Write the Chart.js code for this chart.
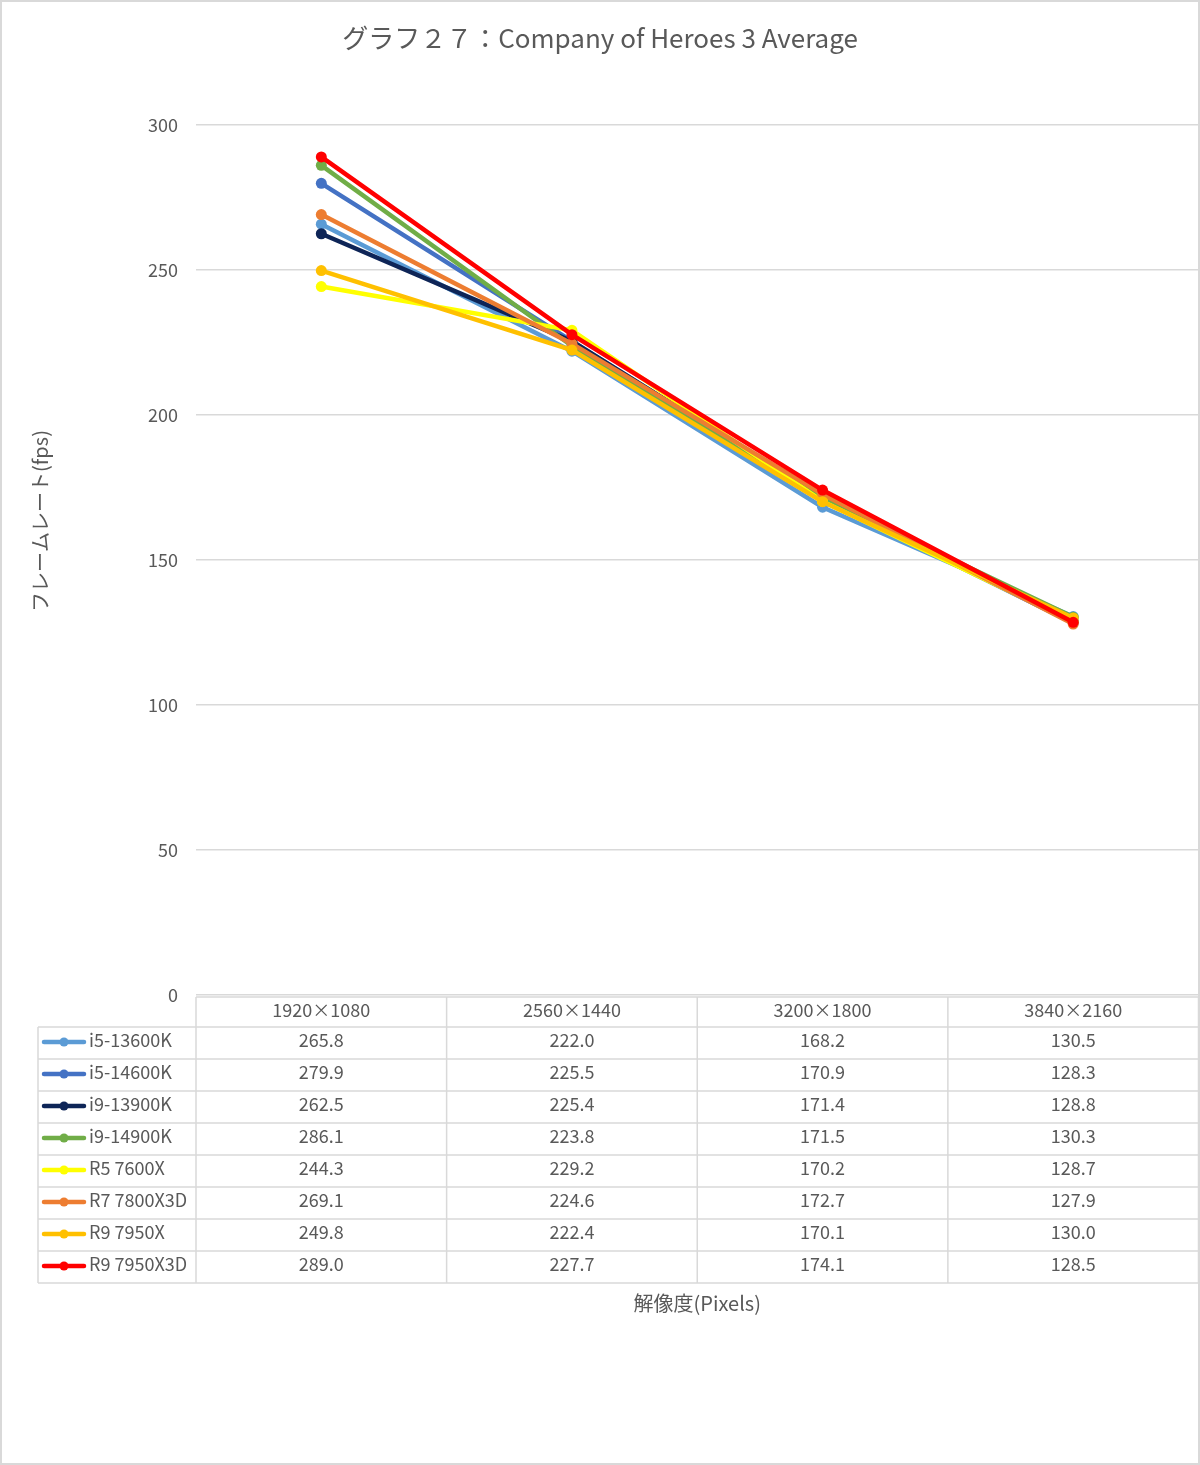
<!DOCTYPE html>
<html><head><meta charset="utf-8">
<script src="https://cdn.jsdelivr.net/npm/chart.js@4/dist/chart.umd.min.js"></script>
<style>html,body{margin:0;padding:0;background:#fff;overflow:hidden}#wrap{width:1200px;height:1465px;position:relative;overflow:hidden}canvas{display:block}</style>
</head><body><div id="wrap"><canvas id="c" width="1204" height="1465"></canvas></div>
<script>
const chartTitle = 'グラフ２７：Company of Heroes 3 Average';
const xTitle = '解像度(Pixels)';
const yTitle = 'フレームレート(fps)';
const categories = ['1920×1080', '2560×1440', '3200×1800', '3840×2160'];
const seriesNames = ['i5-13600K', 'i5-14600K', 'i9-13900K', 'i9-14900K', 'R5 7600X', 'R7 7800X3D', 'R9 7950X', 'R9 7950X3D'];
const i5_13600K = [265.8, 222.0, 168.2, 130.5];
const i5_14600K = [279.9, 225.5, 170.9, 128.3];
const i9_13900K = [262.5, 225.4, 171.4, 128.8];
const i9_14900K = [286.1, 223.8, 171.5, 130.3];
const r5_7600X = [244.3, 229.2, 170.2, 128.7];
const r7_7800X3D = [269.1, 224.6, 172.7, 127.9];
const r9_7950X = [249.8, 222.4, 170.1, 130.0];
const r9_7950X3D = [289.0, 227.7, 174.1, 128.5];
const seriesValues = [i5_13600K, i5_14600K, i9_13900K, i9_14900K, r5_7600X, r7_7800X3D, r9_7950X, r9_7950X3D];
const seriesColors = ['#5B9BD5', '#4472C4', '#0E2557', '#70AD47', '#FFFF00', '#ED7D31', '#FFC000', '#FF0000'];
const yTicks = [0, 50, 100, 150, 200, 250, 300];

const FONT = '"Noto Sans CJK JP", "Noto Sans", sans-serif';
const TXT = '#595959';
const GRID = '#D9D9D9';
const PAGE_W = 1200;

const decor = {
  id: 'decor',
  beforeDraw(chart) {
    const ctx = chart.ctx;
    ctx.save();
    ctx.fillStyle = '#fff';
    ctx.fillRect(0, 0, chart.width, chart.height);
    ctx.restore();
  },
  afterDraw(chart) {
    const ctx = chart.ctx;
    const x = chart.scales.x;
    const area = chart.chartArea;
    const n = categories.length;
    const band = (area.right - area.left) / n;
    const top = area.bottom + 2;
    const headH = 30;
    const rowH = 32;
    const legL = 38;
    const dy = -3;
    ctx.save();
    ctx.strokeStyle = '#D9D9D9';
    ctx.lineWidth = 2;
    ctx.strokeRect(1, 1, PAGE_W - 2, chart.height - 2);
    ctx.fillStyle = TXT;
    ctx.font = '26px ' + FONT;
    ctx.textAlign = 'center';
    ctx.textBaseline = 'middle';
    ctx.fillText(chartTitle, PAGE_W / 2, 38);
    ctx.save();
    ctx.translate(40, 521);
    ctx.rotate(-Math.PI / 2);
    ctx.font = '20px ' + FONT;
    ctx.fillText(yTitle, 0, 0);
    ctx.restore();
    ctx.font = '20px ' + FONT;
    ctx.fillText(xTitle, (area.left + area.right) / 2, 1303);
    ctx.strokeStyle = GRID;
    ctx.lineWidth = 1.5;
    const bottom = top + headH + rowH * seriesNames.length;
    ctx.beginPath();
    ctx.moveTo(area.left, top); ctx.lineTo(area.right, top);
    for (let r = 0; r <= seriesNames.length; r++) {
      const yy = top + headH + r * rowH;
      ctx.moveTo(legL, yy); ctx.lineTo(area.right, yy);
    }
    for (let c = 0; c <= n; c++) {
      const xx = area.left + c * band;
      ctx.moveTo(xx, top); ctx.lineTo(xx, bottom);
    }
    ctx.moveTo(legL, top + headH); ctx.lineTo(legL, bottom);
    ctx.stroke();
    ctx.fillStyle = TXT;
    ctx.font = '18px ' + FONT;
    ctx.textBaseline = 'middle';
    ctx.textAlign = 'center';
    categories.forEach((c, i) => {
      ctx.fillText(c, x.getPixelForValue(i), top + headH / 2 + dy + 1);
    });
    seriesNames.forEach((name, r) => {
      const cy = top + headH + r * rowH + rowH / 2;
      ctx.strokeStyle = seriesColors[r];
      ctx.lineWidth = 4.5;
      ctx.lineCap = 'round';
      ctx.beginPath();
      ctx.moveTo(44, cy - 1); ctx.lineTo(84, cy - 1);
      ctx.stroke();
      ctx.fillStyle = seriesColors[r];
      ctx.beginPath();
      ctx.arc(64, cy - 1, 4.5, 0, Math.PI * 2);
      ctx.fill();
      ctx.fillStyle = TXT;
      ctx.textAlign = 'left';
      ctx.fillText(name, 89, cy + dy);
      ctx.textAlign = 'center';
      seriesValues[r].forEach((v, i) => {
        ctx.fillText(v.toFixed(1), x.getPixelForValue(i), cy + dy);
      });
    });
    ctx.restore();
  }
};

new Chart(document.getElementById('c'), {
  type: 'line',
  data: {
    labels: categories,
    datasets: seriesNames.map((name, i) => ({
      label: name,
      data: seriesValues[i],
      borderColor: seriesColors[i],
      backgroundColor: seriesColors[i],
      borderWidth: 4.5,
      pointRadius: 5.5,
      pointBorderWidth: 0,
      pointBackgroundColor: seriesColors[i],
      tension: 0,
      order: seriesNames.length - i
    }))
  },
  options: {
    responsive: false,
    animation: false,
    devicePixelRatio: 1,
    layout: { padding: { left: 10, top: 125, right: 0, bottom: 470 } },
    plugins: { legend: { display: false }, title: { display: false }, tooltip: { enabled: false } },
    scales: {
      x: { type: 'category', display: false, offset: true },
      y: {
        min: 0, max: 300,
        afterFit(s) { s.width = 186; },
        afterBuildTicks(s) { s.ticks = yTicks.map(v => ({ value: v })); },
        border: { display: false },
        grid: { color: GRID, lineWidth: 1.5, drawTicks: false },
        ticks: { color: TXT, padding: 18, font: { family: FONT, size: 18 } }
      }
    }
  },
  plugins: [decor]
});
</script>
</body></html>
